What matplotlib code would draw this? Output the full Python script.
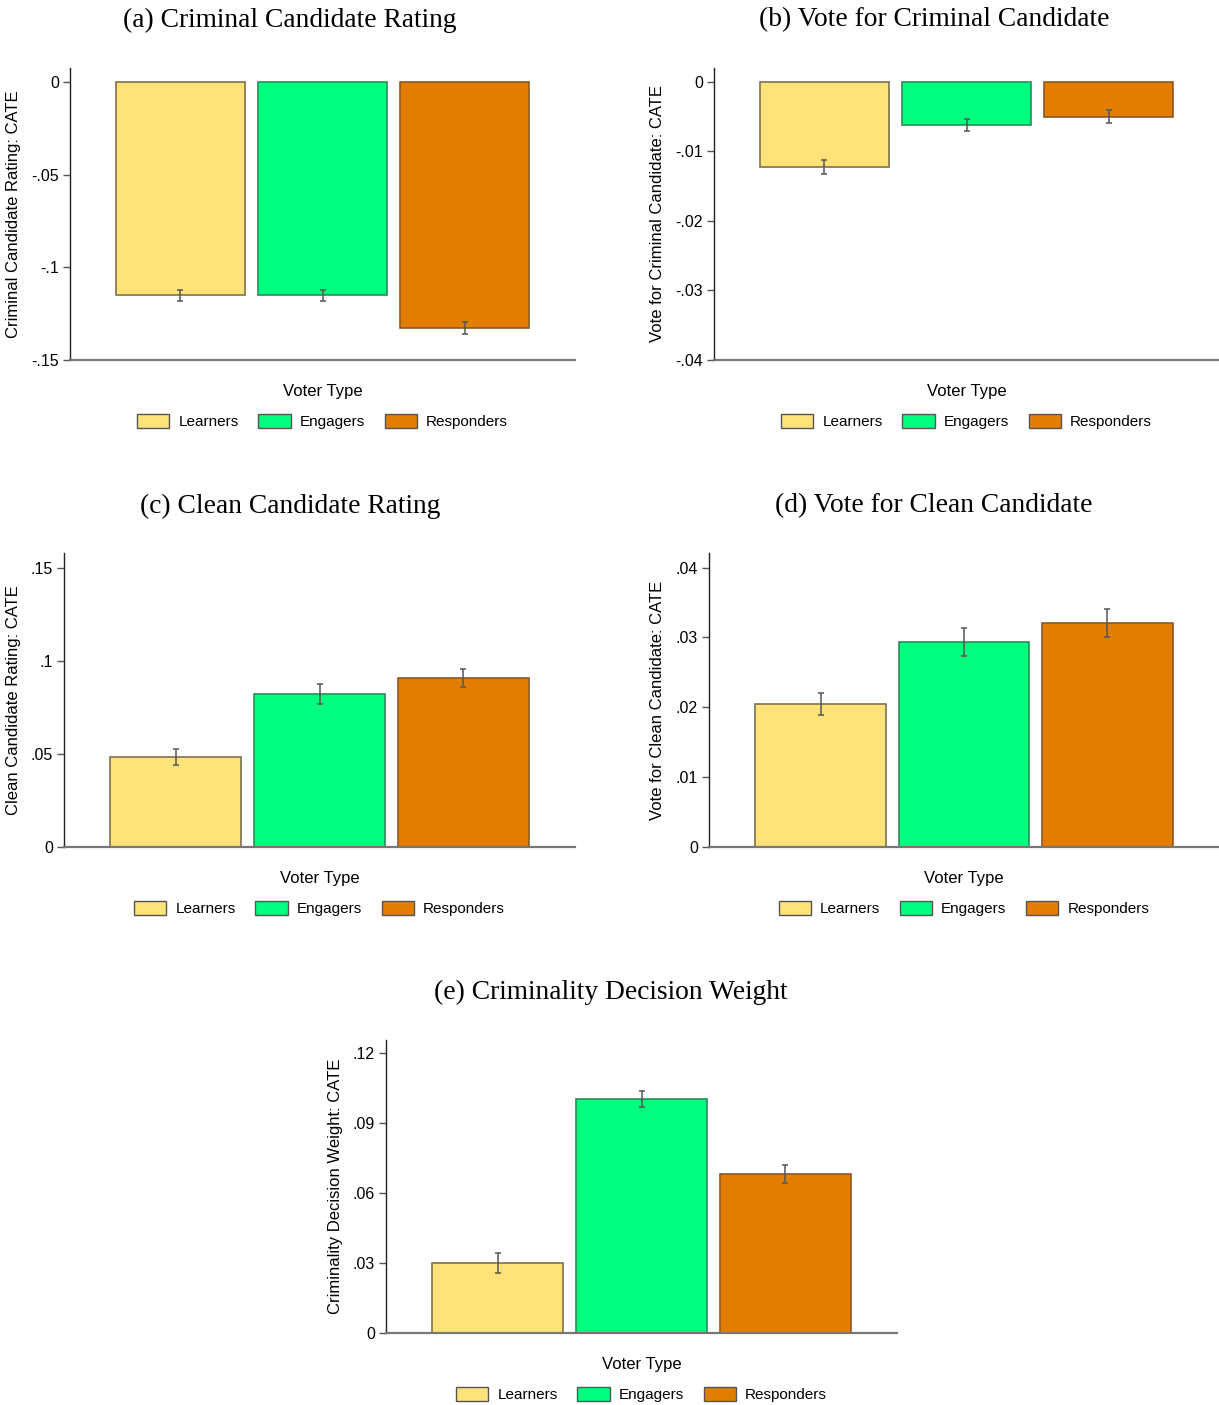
import matplotlib
matplotlib.use("Agg")
import matplotlib.pyplot as plt
from matplotlib.patches import Patch

# voter types and colours
voter_types = ["Learners", "Engagers", "Responders"]
fill_colors = ["#FFE278", "#00FF7F", "#E27D00"]
edge_colors = ["#7d7250", "#2f8a5a", "#8a5a2a"]

# CATE estimates and error bar half-widths
crim_rating = [-0.1150, -0.1152, -0.1328]
crim_rating_err = [0.0030, 0.0032, 0.0032]
crim_vote = [-0.0122, -0.0062, -0.0050]
crim_vote_err = [0.0010, 0.0009, 0.0009]
clean_rating = [0.0484, 0.0822, 0.0909]
clean_rating_err = [0.0045, 0.0056, 0.0048]
clean_vote = [0.0205, 0.0294, 0.0321]
clean_vote_err = [0.0016, 0.0020, 0.0020]
crim_weight = [0.0300, 0.1003, 0.0683]
crim_weight_err = [0.0044, 0.0036, 0.0039]

# tick labels, Stata style (no leading zero)
ticks_a = [0, -0.05, -0.1, -0.15]
labels_a = ["0", "-.05", "-.1", "-.15"]
ticks_b = [0, -0.01, -0.02, -0.03, -0.04]
labels_b = ["0", "-.01", "-.02", "-.03", "-.04"]
ticks_c = [0, 0.05, 0.1, 0.15]
labels_c = ["0", ".05", ".1", ".15"]
ticks_d = [0, 0.01, 0.02, 0.03, 0.04]
labels_d = ["0", ".01", ".02", ".03", ".04"]
ticks_e = [0, 0.03, 0.06, 0.09, 0.12]
labels_e = ["0", ".03", ".06", ".09", ".12"]

W, H = 1219, 1405
fig = plt.figure(figsize=(W / 100, H / 100), dpi=100)
plt.rcParams['font.family'] = ['Liberation Sans', 'DejaVu Sans']


def px_axes(left, right, top, bottom):
    return fig.add_axes([left / W, 1 - bottom / H, (right - left) / W, (bottom - top) / H])


def panel(ax, vals, errs, ticks, labels, ylim, ylabel, ylab_px):
    x = range(len(vals))
    ax.bar(x, vals, width=0.91, color=fill_colors, edgecolor=edge_colors, linewidth=1.2, zorder=2)
    ax.errorbar(x, vals, yerr=errs, fmt='none', ecolor='#555555', elinewidth=1.1,
                capsize=2.5, capthick=1.1, zorder=3)
    ax.set_xlim(-0.778, 2.778)
    ax.set_ylim(*ylim)
    ax.set_yticks(ticks)
    ax.set_yticklabels(labels, fontsize=11.5)
    ax.set_xticks([])
    ax.spines['top'].set_visible(False)
    ax.spines['right'].set_visible(False)
    ax.spines['left'].set_color('#222222')
    ax.spines['left'].set_linewidth(1.0)
    ax.spines['bottom'].set_color('#777777')
    ax.spines['bottom'].set_linewidth(1.6)
    ax.tick_params(axis='y', length=5, width=1, color='#555555', pad=3)
    ax.set_ylabel(ylabel, fontsize=12)
    # label's right edge at a given pixel column
    bb = ax.get_position()
    ax.yaxis.set_label_coords((ylab_px / W - bb.x0) / bb.width, 0.5)
    ax.set_xlabel("Voter Type", fontsize=12, labelpad=17)
    handles = [Patch(facecolor=c, edgecolor='#555555', linewidth=1.0) for c in fill_colors]
    ax.legend(handles, voter_types, loc='upper center', bbox_to_anchor=(0.5, -0.138),
              ncol=3, frameon=False, fontsize=11, handlelength=2.1, handleheight=1.0,
              columnspacing=1.3, handletextpad=0.6)


ax_a = px_axes(70, 575, 68, 360)
panel(ax_a, crim_rating, crim_rating_err, ticks_a, labels_a, (-0.15, 0.0075),
      "Criminal Candidate Rating: CATE", 21)
ax_b = px_axes(714, 1219, 68, 360)
panel(ax_b, crim_vote, crim_vote_err, ticks_b, labels_b, (-0.04, 0.002),
      "Vote for Criminal Candidate: CATE", 665)
ax_c = px_axes(64, 575, 553, 847)
panel(ax_c, clean_rating, clean_rating_err, ticks_c, labels_c, (0, 0.158),
      "Clean Candidate Rating: CATE", 21)
ax_d = px_axes(709, 1219, 553, 847)
panel(ax_d, clean_vote, clean_vote_err, ticks_d, labels_d, (0, 0.0421),
      "Vote for Clean Candidate: CATE", 665)
ax_e = px_axes(386, 897, 1040, 1333)
panel(ax_e, crim_weight, crim_weight_err, ticks_e, labels_e, (0, 0.1256),
      "Criminality Decision Weight: CATE", 343)

title_font = dict(fontsize=19.8, family='Liberation Serif', ha='center', va='center')
fig.text(290 / W, 1 - 20 / H, "(a) Criminal Candidate Rating", **title_font)
fig.text(934 / W, 1 - 20 / H, "(b) Vote for Criminal Candidate", **title_font)
fig.text(290 / W, 1 - 506 / H, "(c) Clean Candidate Rating", **title_font)
fig.text(934 / W, 1 - 506 / H, "(d) Vote for Clean Candidate", **title_font)
fig.text(611 / W, 1 - 992 / H, "(e) Criminality Decision Weight", **title_font)

fig.savefig("out.png", dpi=100, facecolor='white')
